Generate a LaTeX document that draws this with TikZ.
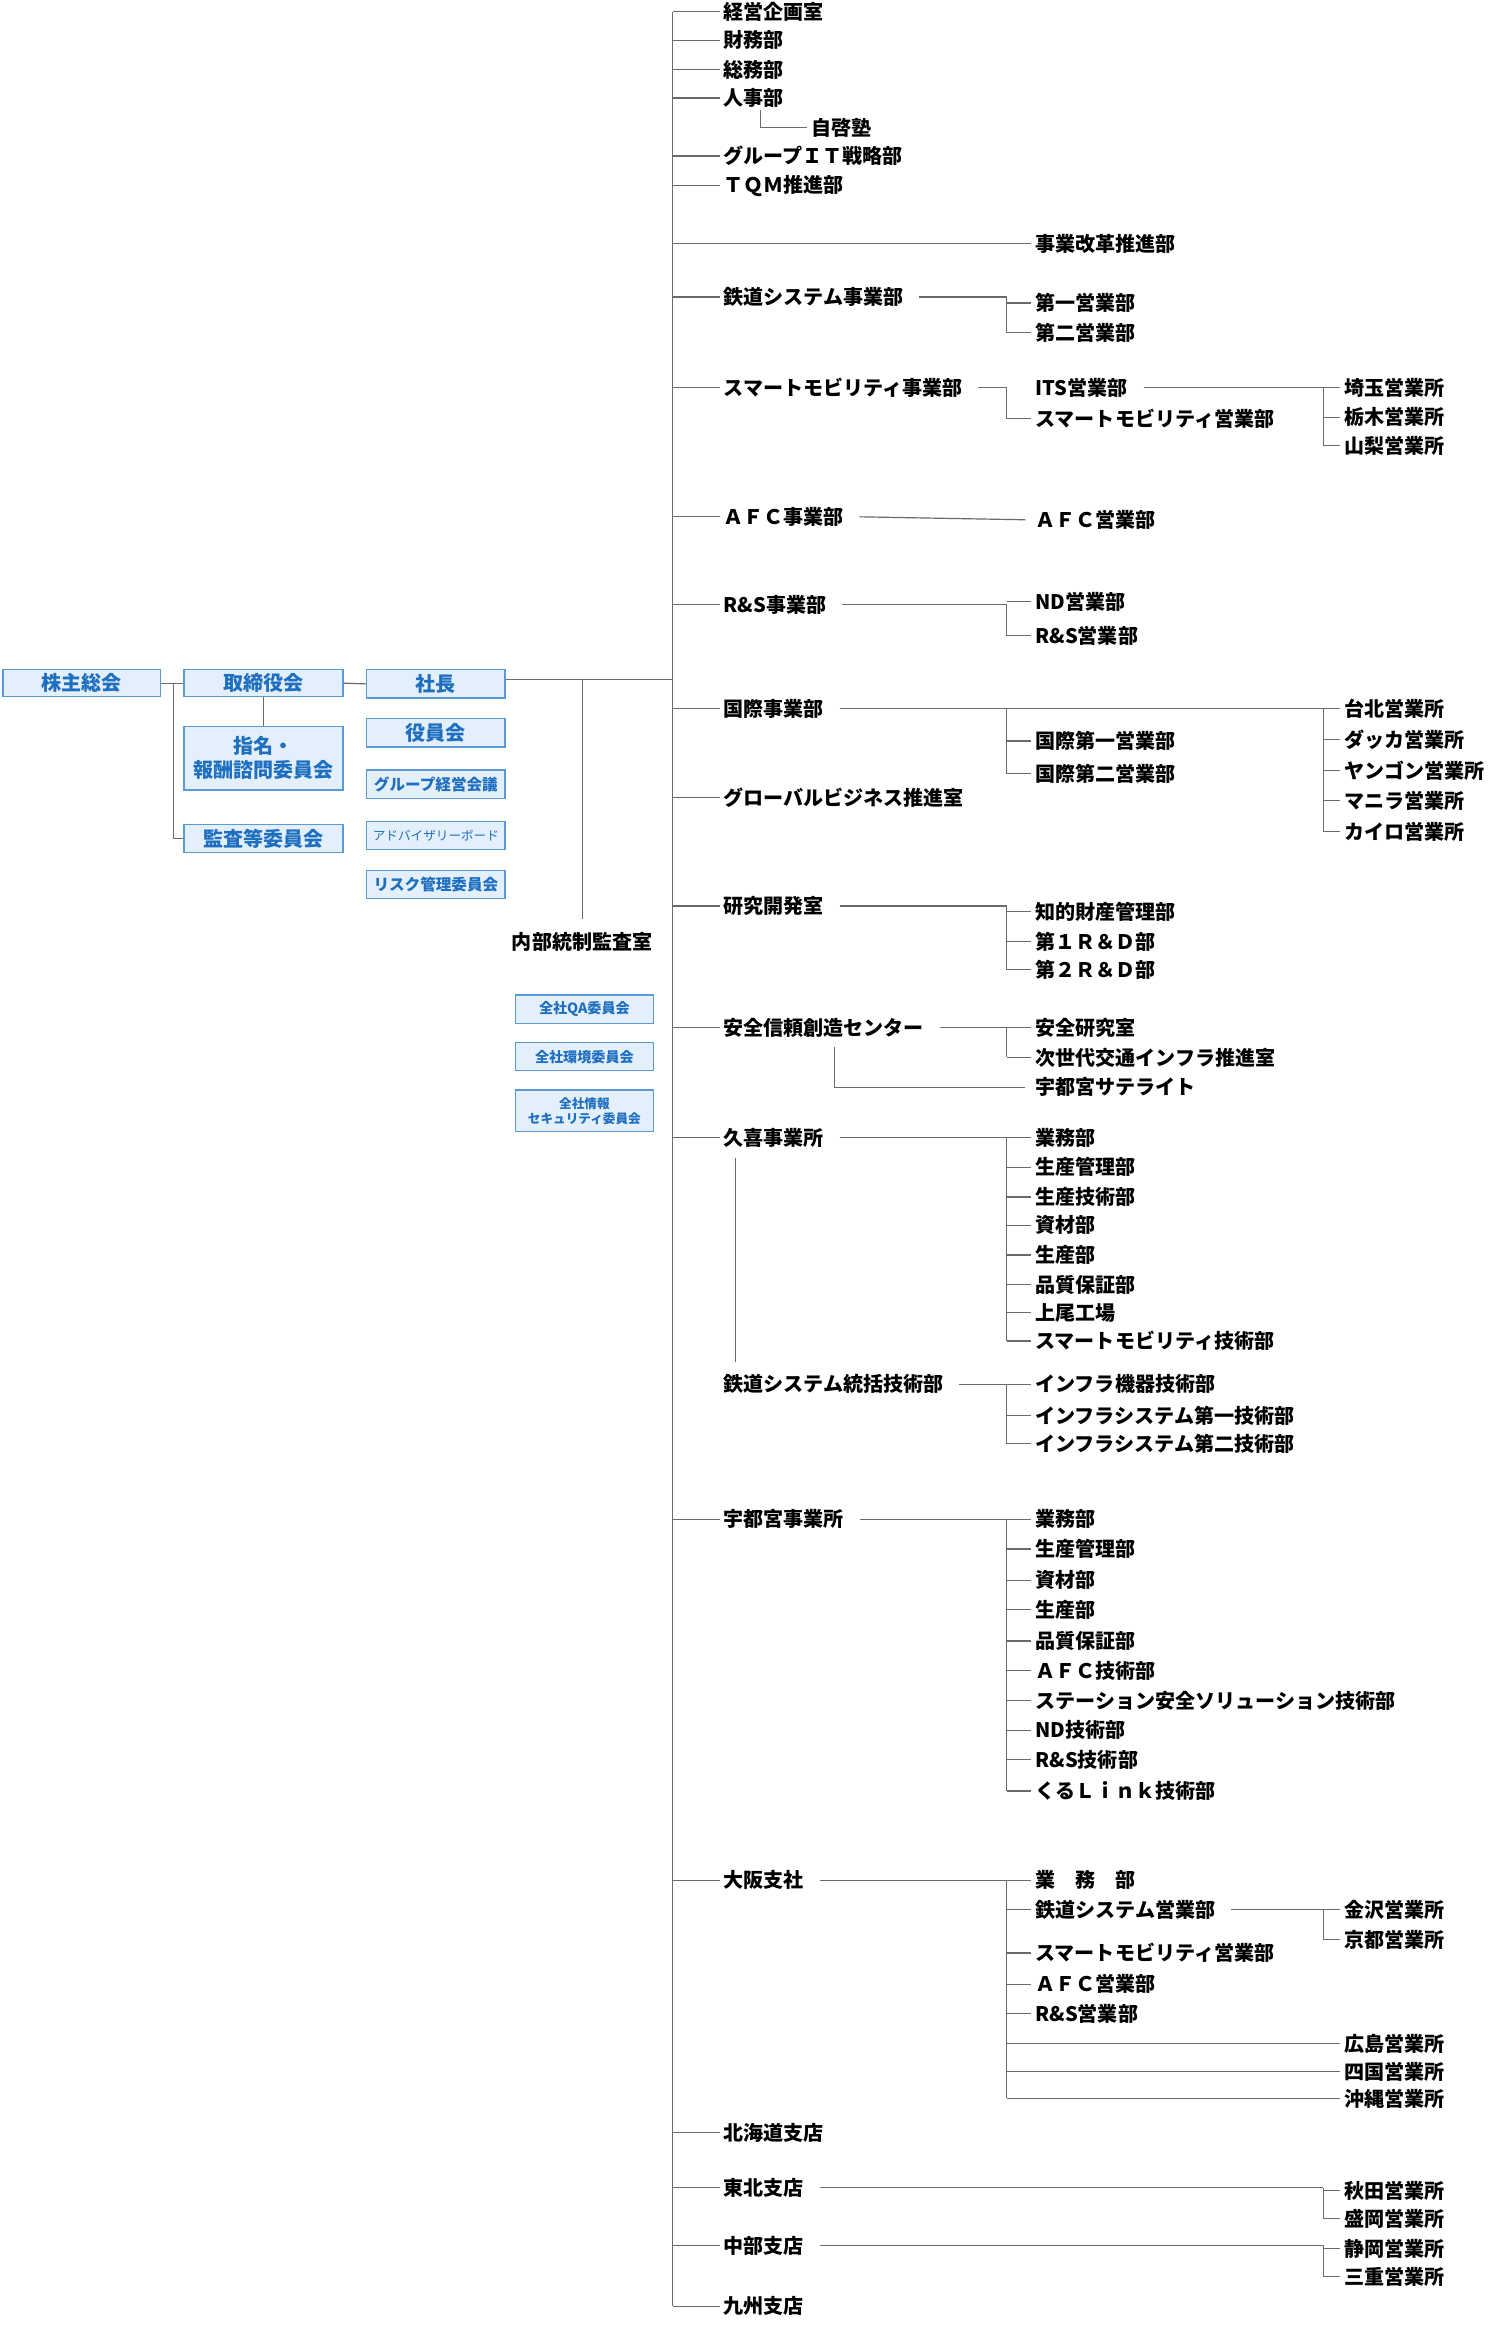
\documentclass[tikz,border=0pt]{standalone}
\usepackage{fontspec}
\setmainfont{Noto Sans CJK JP}
\definecolor{boxf}{HTML}{E3EFFB}
\definecolor{boxb}{HTML}{5B9BD5}
\definecolor{boxt}{HTML}{1F6FC0}
\definecolor{lnc}{HTML}{6A6A6A}
\tikzset{
 lbl/.style={anchor=west,inner sep=2.5pt,font=\fontsize{13.5}{15}\selectfont\bfseries,text=black},
 ln/.style={draw=lnc,line width=0.8pt},
 bx/.style={draw=boxb,fill=boxf,text=boxt,line width=0.9pt,inner sep=0pt,align=center,font=\fontsize{13.5}{16}\selectfont\bfseries},
}
\newcommand\pl[2]{\draw[ln] ([xshift=8pt]#1.east) -- (#2 |- #1.east);}
\newcommand\cl[2]{\draw[ln] (#2 |- #1.west) -- (#1.west);}
\newcommand\vl[3]{\draw[ln] (#1 |- #2.west) -- (#1 |- #3.west);}
\newcommand\nd[4]{\node[lbl] (#1) at (#2,-#3) {#4};}
\begin{document}
\begin{tikzpicture}[x=1pt,y=1pt]
\useasboundingbox (0,0) rectangle (1010,-1569.6);
\coordinate (trunk) at (453,0);
\coordinate (ca) at (678,0);
\coordinate (cb) at (891,0);
% left boxes
\node[bx,minimum width=106,minimum height=18] (kabu) at (55,-460) {株主総会};
\node[bx,minimum width=107,minimum height=18] (tori) at (177.5,-460) {取締役会};
\node[bx,minimum width=93,minimum height=19] (shacho) at (293.5,-460.5) {社長};
\node[bx,minimum width=107,minimum height=43] (shimei) at (177.5,-510.5) {指名・\\報酬諮問委員会};
\node[bx,minimum width=107,minimum height=19] (kansa) at (177.5,-564.5) {監査等委員会};
\node[bx,minimum width=93,minimum height=19] (yakuin) at (293.5,-493.5) {役員会};
\node[bx,minimum width=93,minimum height=19,font=\fontsize{10.5}{12}\selectfont\bfseries] (group) at (293.5,-528) {グループ経営会議};
\node[bx,minimum width=93,minimum height=19,font=\fontsize{8.5}{10}\selectfont] (adv) at (293.5,-562.5) {アドバイザリーボード};
\node[bx,minimum width=93,minimum height=19,font=\fontsize{10.5}{12}\selectfont\bfseries] (risk) at (293.5,-595.5) {リスク管理委員会};
\node[lbl,anchor=center] (naibu) at (392,-634) {内部統制監査室};
\node[bx,minimum width=93,minimum height=19,font=\fontsize{9.5}{11}\selectfont\bfseries] (qa) at (393.5,-679.5) {全社QA委員会};
\node[bx,minimum width=93,minimum height=19,font=\fontsize{9.5}{11}\selectfont\bfseries] (kankyo) at (393.5,-711.5) {全社環境委員会};
\node[bx,minimum width=93,minimum height=28,font=\fontsize{8.5}{10}\selectfont\bfseries] (joho) at (393.5,-748) {全社情報\\セキュリティ委員会};
\draw[ln] (kabu.east) -- (tori.west);
\draw[ln] (117,-460) |- (kansa.west);
\draw[ln] (tori.south) -- (shimei.north);
\draw[ln] (tori.east) -- (shacho.west);
\coordinate (sh) at ([yshift=3pt]shacho.east);
\draw[ln] (sh) -- (trunk |- sh);
\draw[ln] (naibu.north |- sh) -- ([yshift=6pt]naibu.north);
% level 1
\nd{keiei}{484.5}{8}{経営企画室}
\nd{zaimu}{484.5}{27}{財務部}
\nd{somu}{484.5}{47}{総務部}
\nd{jinji}{484.5}{66}{人事部}
\nd{jikei}{543.5}{86}{自啓塾}
\nd{git}{484.5}{105}{グループＩＴ戦略部}
\nd{tqm}{484.5}{125}{ＴＱＭ推進部}
\nd{tetsu}{484.5}{200}{鉄道システム事業部}
\nd{smart}{484.5}{261}{スマートモビリティ事業部}
\nd{afc}{484.5}{348}{ＡＦＣ事業部}
\nd{rs}{484.5}{407}{R\&S事業部}
\nd{koku}{484.5}{477}{国際事業部}
\nd{global}{484.5}{537}{グローバルビジネス推進室}
\nd{ken}{484.5}{610}{研究開発室}
\nd{anzen}{484.5}{692}{安全信頼創造センター}
\nd{kuki}{484.5}{766}{久喜事業所}
\nd{tsys}{484.5}{932}{鉄道システム統括技術部}
\nd{utsu}{484.5}{1023}{宇都宮事業所}
\nd{osaka}{484.5}{1266}{大阪支社}
\nd{hokkai}{484.5}{1436}{北海道支店}
\nd{tohoku}{484.5}{1473}{東北支店}
\nd{chubu}{484.5}{1512}{中部支店}
\nd{kyushu}{484.5}{1553}{九州支店}
\draw[ln] (trunk |- keiei.west) -- (trunk |- kyushu.west);
\foreach \n in {keiei,zaimu,somu,jinji,git,tqm,tetsu,smart,afc,rs,koku,global,ken,anzen,kuki,utsu,osaka,hokkai,tohoku,chubu,kyushu} {\cl{\n}{trunk}}
\draw[ln] (512,-74) |- (jikei.west);
% level 2
\nd{kaikaku}{694.5}{164}{事業改革推進部}
\draw[ln] (trunk |- kaikaku.west) -- (kaikaku.west);
\nd{e1}{694.5}{204}{第一営業部}
\nd{e2}{694.5}{224}{第二営業部}
\pl{tetsu}{ca} \vl{ca}{tetsu}{e2} \cl{e1}{ca} \cl{e2}{ca}
\nd{its}{694.5}{261}{ITS営業部}
\nd{sme}{694.5}{282}{スマートモビリティ営業部}
\pl{smart}{ca} \vl{ca}{smart}{sme} \cl{sme}{ca}
\nd{saitama}{902.5}{261}{埼玉営業所}
\nd{tochigi}{902.5}{281}{栃木営業所}
\nd{yamanashi}{902.5}{300}{山梨営業所}
\pl{its}{cb} \vl{cb}{its}{yamanashi} \cl{saitama}{cb} \cl{tochigi}{cb} \cl{yamanashi}{cb}
\nd{afce}{694.5}{350}{ＡＦＣ営業部}
\draw[ln] ([xshift=8pt]afc.east) -- ([xshift=-4pt]afce.west);
\nd{nde}{694.5}{405}{ND営業部}
\nd{rse}{694.5}{428}{R\&S営業部}
\pl{rs}{ca} \vl{ca}{rs}{rse} \cl{nde}{ca} \cl{rse}{ca}
\nd{k1}{694.5}{499}{国際第一営業部}
\nd{k2}{694.5}{521}{国際第二営業部}
\nd{taipei}{902.5}{477}{台北営業所}
\nd{dhaka}{902.5}{498}{ダッカ営業所}
\nd{yangon}{902.5}{519}{ヤンゴン営業所}
\nd{manila}{902.5}{539}{マニラ営業所}
\nd{cairo}{902.5}{560}{カイロ営業所}
\pl{koku}{cb} \vl{ca}{koku}{k2} \cl{k1}{ca} \cl{k2}{ca}
\vl{cb}{koku}{cairo} \foreach \n in {taipei,dhaka,yangon,manila,cairo} {\cl{\n}{cb}}
\nd{chiteki}{694.5}{614}{知的財産管理部}
\nd{rd1}{694.5}{634}{第１Ｒ＆Ｄ部}
\nd{rd2}{694.5}{653}{第２Ｒ＆Ｄ部}
\pl{ken}{ca} \vl{ca}{ken}{rd2} \foreach \n in {chiteki,rd1,rd2} {\cl{\n}{ca}}
\nd{anken}{694.5}{692}{安全研究室}
\nd{jisedai}{694.5}{712}{次世代交通インフラ推進室}
\nd{utsusat}{694.5}{732}{宇都宮サテライト}
\pl{anzen}{ca} \vl{ca}{anzen}{jisedai} \cl{anken}{ca} \cl{jisedai}{ca}
\draw[ln] (562,-705) |- ([xshift=-4pt]utsusat.west);
\nd{q1}{694.5}{766}{業務部}
\nd{q2}{694.5}{786}{生産管理部}
\nd{q3}{694.5}{806}{生産技術部}
\nd{q4}{694.5}{825}{資材部}
\nd{q5}{694.5}{845}{生産部}
\nd{q6}{694.5}{865}{品質保証部}
\nd{q7}{694.5}{884}{上尾工場}
\nd{q8}{694.5}{903}{スマートモビリティ技術部}
\pl{kuki}{ca} \vl{ca}{kuki}{q8} \foreach \n in {q1,q2,q3,q4,q5,q6,q7,q8} {\cl{\n}{ca}}
\draw[ln] (495,-780) -- (495,-917);
\nd{t1}{694.5}{932}{インフラ機器技術部}
\nd{t2}{694.5}{953}{インフラシステム第一技術部}
\nd{t3}{694.5}{972}{インフラシステム第二技術部}
\pl{tsys}{ca} \vl{ca}{tsys}{t3} \foreach \n in {t1,t2,t3} {\cl{\n}{ca}}
\nd{u1}{694.5}{1023}{業務部}
\nd{u2}{694.5}{1043}{生産管理部}
\nd{u3}{694.5}{1064}{資材部}
\nd{u4}{694.5}{1084}{生産部}
\nd{u5}{694.5}{1105}{品質保証部}
\nd{u6}{694.5}{1125}{ＡＦＣ技術部}
\nd{u7}{694.5}{1145}{ステーション安全ソリューション技術部}
\nd{u8}{694.5}{1165}{ND技術部}
\nd{u9}{694.5}{1185}{R\&S技術部}
\nd{u10}{694.5}{1206}{くるＬｉｎｋ技術部}
\pl{utsu}{ca} \vl{ca}{utsu}{u10} \foreach \n in {u1,u2,u3,u4,u5,u6,u7,u8,u9,u10} {\cl{\n}{ca}}
\nd{o1}{694.5}{1266}{業　務　部}
\nd{o2}{694.5}{1286}{鉄道システム営業部}
\nd{o3}{694.5}{1315}{スマートモビリティ営業部}
\nd{o4}{694.5}{1336}{ＡＦＣ営業部}
\nd{o5}{694.5}{1356}{R\&S営業部}
\nd{kanazawa}{902.5}{1286}{金沢営業所}
\nd{kyoto}{902.5}{1306}{京都営業所}
\nd{hiroshima}{902.5}{1376}{広島営業所}
\nd{shikoku}{902.5}{1395}{四国営業所}
\nd{okinawa}{902.5}{1413}{沖縄営業所}
\pl{osaka}{ca} \vl{ca}{osaka}{okinawa} \foreach \n in {o1,o2,o3,o4,o5} {\cl{\n}{ca}}
\foreach \n in {hiroshima,shikoku,okinawa} {\cl{\n}{ca}}
\pl{o2}{cb} \vl{cb}{o2}{kyoto} \cl{kanazawa}{cb} \cl{kyoto}{cb}
\nd{akita}{902.5}{1475}{秋田営業所}
\nd{morioka}{902.5}{1494}{盛岡営業所}
\nd{shizuoka}{902.5}{1514}{静岡営業所}
\nd{mie}{902.5}{1533}{三重営業所}
\pl{tohoku}{cb} \vl{cb}{tohoku}{morioka} \cl{akita}{cb} \cl{morioka}{cb}
\pl{chubu}{cb} \vl{cb}{chubu}{mie} \cl{shizuoka}{cb} \cl{mie}{cb}
\end{tikzpicture}
\end{document}
